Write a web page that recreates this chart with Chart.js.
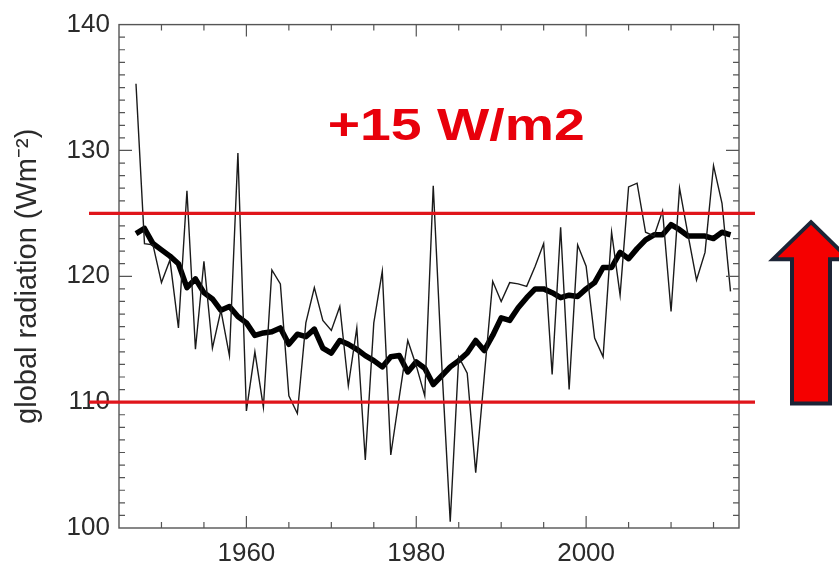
<!DOCTYPE html>
<html>
<head>
<meta charset="utf-8">
<script src="https://cdn.jsdelivr.net/npm/chart.js@4.4.1/dist/chart.umd.min.js"></script>
<style>
  html, body { margin: 0; padding: 0; background: #fff; }
  #wrap { width: 839px; height: 565px; }
</style>
</head>
<body>
<div id="wrap"><canvas id="chart" width="839" height="565"></canvas></div>
<script>
// years of the record
const years = [
  1947, 1948, 1949, 1950, 1951, 1952, 1953, 1954, 1955, 1956,
  1957, 1958, 1959, 1960, 1961, 1962, 1963, 1964, 1965, 1966,
  1967, 1968, 1969, 1970, 1971, 1972, 1973, 1974, 1975, 1976,
  1977, 1978, 1979, 1980, 1981, 1982, 1983, 1984, 1985, 1986,
  1987, 1988, 1989, 1990, 1991, 1992, 1993, 1994, 1995, 1996,
  1997, 1998, 1999, 2000, 2001, 2002, 2003, 2004, 2005, 2006,
  2007, 2008, 2009, 2010, 2011, 2012, 2013, 2014, 2015, 2016,
  2017
];

// annual global radiation (thin line)
const annual = [
  135.3, 122.6, 122.5, 119.5, 121.3, 115.9, 126.8, 114.2, 121.2, 114.3,
  117.3, 113.7, 129.8, 109.3, 114.0, 109.6, 120.5, 119.4, 110.5, 109.1,
  116.3, 119.1, 116.5, 115.7, 117.6, 111.3, 115.9, 105.4, 116.3, 120.4,
  105.8, 110.4, 114.9, 112.9, 110.5, 127.2, 113.0, 100.5, 113.6, 112.3,
  104.4, 112.0, 119.6, 118.0, 119.5, 119.4, 119.2, 120.8, 122.6, 112.2,
  123.9, 111.0, 122.5, 120.8, 115.1, 113.6, 123.5, 118.5, 127.1, 127.4,
  123.5, 123.2, 125.2, 117.2, 127.0, 123.3, 119.7, 121.9, 128.8, 125.8,
  118.8
];

// smoothed curve (thick line)
const smoothed = [
  123.4, 123.8, 122.6, 122.1, 121.6, 121.0, 119.1, 119.8, 118.7, 118.2,
  117.3, 117.6, 116.8, 116.3, 115.3, 115.5, 115.6, 115.9, 114.6, 115.4,
  115.2, 115.8, 114.3, 113.9, 114.9, 114.6, 114.2, 113.7, 113.3, 112.8,
  113.6, 113.7, 112.4, 113.2, 112.7, 111.4, 112.1, 112.8, 113.3, 113.9,
  114.9, 114.1, 115.3, 116.7, 116.5, 117.5, 118.3, 119.0, 119.0, 118.7,
  118.3, 118.5, 118.4, 119.0, 119.5, 120.7, 120.7, 121.9, 121.4, 122.2,
  122.9, 123.3, 123.3, 124.1, 123.7, 123.2, 123.2, 123.2, 123.0, 123.5,
  123.3
];

const xTicks = [1960, 1980, 2000];
const yTicks = [100, 110, 120, 130, 140];
const refLevels = [110, 125];
const note = '+15 W/m2';

const FONT = '"Liberation Sans", Arial, Helvetica, sans-serif';

// box, inward ticks, red levels, note and arrow
const decor = {
  id: 'decor',
  afterDatasetsDraw(chart) {
    const { ctx, chartArea: a, scales: { x, y } } = chart;
    ctx.save();

    // frame
    ctx.strokeStyle = '#555';
    ctx.lineWidth = 1.4;
    ctx.strokeRect(a.left, a.top, a.right - a.left, a.bottom - a.top);

    // x ticks top + bottom, every 5 yrs, long on labelled ones
    ctx.lineWidth = 1.2;
    for (let v = 1950; v < x.max; v += 5) {
      const px = x.getPixelForValue(v);
      const len = xTicks.includes(v) ? 12 : 6;
      ctx.beginPath();
      ctx.moveTo(px, a.bottom); ctx.lineTo(px, a.bottom - len);
      ctx.moveTo(px, a.top); ctx.lineTo(px, a.top + len);
      ctx.stroke();
    }
    // y ticks left + right, every unit
    for (let v = y.min + 1; v < y.max; v += 1) {
      const py = y.getPixelForValue(v);
      const len = v % 10 === 0 ? 13 : 6;
      ctx.beginPath();
      ctx.moveTo(a.left, py); ctx.lineTo(a.left + len, py);
      ctx.moveTo(a.right, py); ctx.lineTo(a.right - len, py);
      ctx.stroke();
    }

    // red levels
    ctx.strokeStyle = '#e0151b';
    ctx.lineWidth = 3.2;
    refLevels.forEach(v => {
      const py = y.getPixelForValue(v);
      ctx.beginPath();
      ctx.moveTo(a.left - 30, py);
      ctx.lineTo(a.right + 16, py);
      ctx.stroke();
    });

    // note, stretched like the original
    ctx.font = 'bold 45px ' + FONT;
    ctx.fillStyle = '#e8000b';
    ctx.textBaseline = 'alphabetic';
    const w = ctx.measureText(note).width;
    ctx.save();
    ctx.translate(x.getPixelForValue(1984.7), y.getPixelForValue(130.8));
    ctx.scale(257 / w, 1);
    ctx.fillText(note, -w / 2, 0);
    ctx.restore();

    // arrow on the right
    const cx = a.right + 72;
    const tip = y.getPixelForValue(124.3);
    const base = y.getPixelForValue(109.9);
    const neck = tip + 37;
    ctx.beginPath();
    ctx.moveTo(cx, tip);
    ctx.lineTo(cx + 38, neck);
    ctx.lineTo(cx + 19, neck);
    ctx.lineTo(cx + 19, base);
    ctx.lineTo(cx - 19, base);
    ctx.lineTo(cx - 19, neck);
    ctx.lineTo(cx - 38, neck);
    ctx.closePath();
    ctx.fillStyle = '#f50000';
    ctx.fill();
    ctx.strokeStyle = '#1c2436';
    ctx.lineWidth = 4;
    ctx.lineJoin = 'miter';
    ctx.stroke();

    ctx.restore();
  }
};

const config = {
  type: 'line',
  data: {
    datasets: [
      {
        label: 'annual',
        data: years.map((yr, i) => ({ x: yr, y: annual[i] })),
        borderColor: '#1a1a1a',
        borderWidth: 1.4,
        pointRadius: 0,
        tension: 0,
      },
      {
        label: 'smoothed',
        data: years.map((yr, i) => ({ x: yr, y: smoothed[i] })),
        borderColor: '#000',
        borderWidth: 5.5,
        pointRadius: 0,
        tension: 0,
        borderJoinStyle: 'round',
      }
    ]
  },
  options: {
    responsive: false,
    animation: false,
    layout: { padding: { left: 0, right: 100, top: 17, bottom: 0 } },
    plugins: { legend: { display: false }, tooltip: { enabled: false } },
    scales: {
      x: {
        type: 'linear',
        min: 1945,
        max: 2018,
        grid: { display: false, drawTicks: false },
        border: { display: false },
        afterBuildTicks: s => { s.ticks = xTicks.map(v => ({ value: v })); },
        afterFit: s => { s.height = 37; },
        ticks: {
          padding: 10,
          color: '#2b2b2b',
          font: { family: FONT, size: 26 },
          callback: v => String(v),
        },
      },
      y: {
        min: 100,
        max: 140,
        grid: { display: false, drawTicks: false },
        border: { display: false },
        afterBuildTicks: s => { s.ticks = yTicks.map(v => ({ value: v })); },
        afterFit: s => { s.width = 119; },
        ticks: {
          padding: 9,
          color: '#2b2b2b',
          font: { family: FONT, size: 26 },
        },
        title: {
          display: true,
          text: 'global radiation (Wm⁻²)',
          color: '#2b2b2b',
          font: { family: FONT, size: 29 },
          padding: { top: 11, bottom: 0 },
        },
      }
    }
  },
  plugins: [decor]
};

new Chart(document.getElementById('chart'), config);
</script>
</body>
</html>
